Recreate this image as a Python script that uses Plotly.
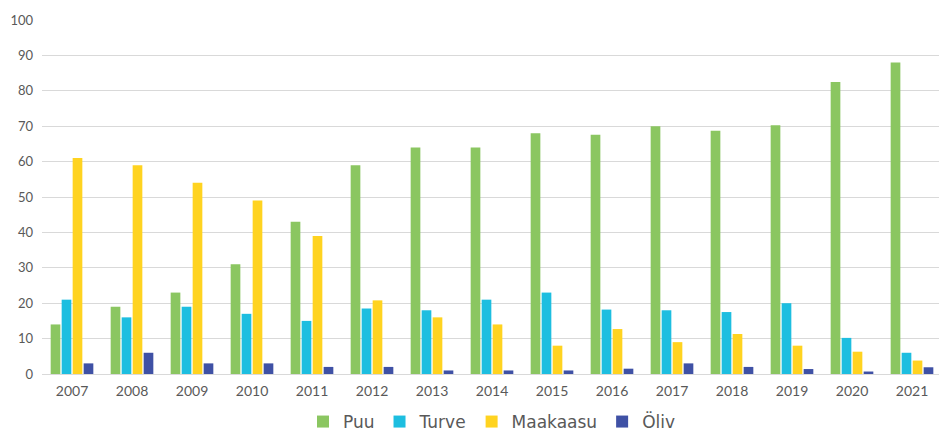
import plotly.graph_objects as go

years = ["2007", "2008", "2009", "2010", "2011", "2012", "2013", "2014",
         "2015", "2016", "2017", "2018", "2019", "2020", "2021"]
puu = [14, 19, 23, 31, 43, 59, 64, 64, 68, 67.6, 70, 68.7, 70.3, 82.5, 88]
turve = [21, 16, 19, 17, 15, 18.5, 18, 21, 23, 18.2, 18, 17.5, 20, 10.2, 6]
maakaasu = [61, 59, 54, 49, 39, 20.8, 16, 14, 8, 12.7, 9, 11.3, 8, 6.3, 3.8]
oliv = [3, 6, 3, 3, 2, 2, 1, 1, 1, 1.5, 3, 2, 1.4, 0.7, 1.9]

series = [("Puu", puu, "#8BC661"), ("Turve", turve, "#1DBEE0"),
          ("Maakaasu", maakaasu, "#FFD320"), ("Öliv", oliv, "#3F51A5")]

fig = go.Figure()
for name, vals, col in series:
    fig.add_trace(go.Bar(x=years, y=vals, name=name, marker_color=col,
                         marker_line_width=0))

fig.update_layout(
    width=947, height=432,
    margin=dict(l=34, r=13, t=12, b=66, autoexpand=False),
    paper_bgcolor="white", plot_bgcolor="white",
    barmode="group", bargap=0.267, bargroupgap=0.12,
    font=dict(family="Lato, sans-serif", color="#595959", size=13),
    showlegend=True,
    legend=dict(orientation="h", x=0.5, xanchor="center",
                yref="container", y=0.0, yanchor="bottom",
                font=dict(size=17, color="#595959", family="DejaVu Sans, sans-serif"),
                itemwidth=30, traceorder="normal"),
)
fig.update_xaxes(showgrid=False, showline=True, linecolor="#d9d9d9", linewidth=1,
                 ticks="", ticklabelstandoff=4, tickfont=dict(size=14, color="#595959"),
                 automargin=False)
fig.update_yaxes(range=[0, 100], dtick=10, showgrid=True, gridcolor="#d9d9d9",
                 gridwidth=1, zeroline=False, ticks="", ticklabelstandoff=8,
                 tickfont=dict(size=13, color="#595959"), automargin=False)

fig.write_html("out.html")
